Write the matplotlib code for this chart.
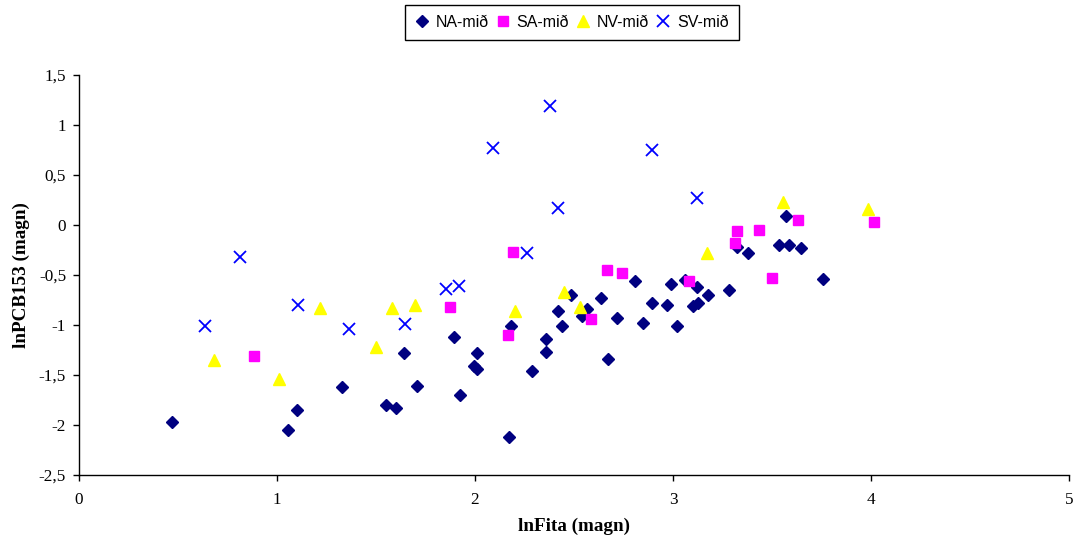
import matplotlib
matplotlib.use("Agg")
import matplotlib.pyplot as plt
from matplotlib.ticker import FuncFormatter

# ---- data ----
na_x = [0.470, 1.056, 1.101, 1.328, 1.551, 1.601, 1.641, 1.707, 1.894, 1.924,
        1.995, 2.010, 2.010, 2.172, 2.182, 2.288, 2.359, 2.359, 2.419, 2.439,
        2.485, 2.540, 2.566, 2.636, 2.672, 2.717, 2.808, 2.848, 2.894, 2.970,
        2.990, 3.020, 3.061, 3.101, 3.121, 3.126, 3.177, 3.283, 3.323, 3.379,
        3.535, 3.571, 3.586, 3.646, 3.758]
na_y = [-1.97, -2.05, -1.85, -1.62, -1.80, -1.83, -1.28, -1.61, -1.12, -1.70,
        -1.41, -1.44, -1.28, -2.12, -1.01, -1.46, -1.14, -1.27, -0.86, -1.01,
        -0.70, -0.91, -0.84, -0.73, -1.34, -0.93, -0.56, -0.98, -0.78, -0.80,
        -0.59, -1.01, -0.55, -0.81, -0.62, -0.78, -0.70, -0.65, -0.22, -0.28,
        -0.20, 0.09, -0.20, -0.23, -0.54]

sa_x = [0.884, 1.874, 2.167, 2.192, 2.586, 2.667, 2.742, 3.081, 3.313, 3.323,
        3.434, 3.500, 3.631, 4.015]
sa_y = [-1.31, -0.82, -1.10, -0.27, -0.94, -0.45, -0.48, -0.56, -0.18, -0.06,
        -0.05, -0.53, 0.05, 0.03]

nv_x = [0.682, 1.010, 1.217, 1.500, 1.581, 1.697, 2.202, 2.449, 2.530, 3.172,
        3.556, 3.985]
nv_y = [-1.35, -1.54, -0.83, -1.22, -0.83, -0.80, -0.86, -0.67, -0.82, -0.28,
        0.23, 0.16]

sv_x = [0.636, 0.813, 1.106, 1.364, 1.646, 1.854, 1.919, 2.091, 2.263, 2.379,
        2.419, 2.894, 3.121]
sv_y = [-1.01, -0.32, -0.80, -1.04, -0.99, -0.64, -0.61, 0.77, -0.28, 1.19,
        0.17, 0.75, 0.27]

series_labels = ["NA-mið", "SA-mið", "NV-mið", "SV-mið"]
x_ticks = [0, 1, 2, 3, 4, 5]
y_ticks = [-2.5, -2, -1.5, -1, -0.5, 0, 0.5, 1, 1.5]
x_label = "lnFita (magn)"
y_label = "lnPCB153 (magn)"

# ---- figure ----
W, H = 1074, 544
fig = plt.figure(figsize=(W / 100, H / 100), dpi=100)
ax = fig.add_axes([79 / W, (H - 475) / H, (1069 - 79) / W, (475 - 75) / H])

serif = ["Liberation Serif", "DejaVu Serif"]
sans = ["Liberation Sans", "DejaVu Sans"]

h1, = ax.plot(na_x, na_y, linestyle="none", marker="D", ms=6.2,
              color="#000080", mec="#000080", label=series_labels[0])
h2, = ax.plot(sa_x, sa_y, linestyle="none", marker="s", ms=7,
              color="#FF00FF", mec="#FF00FF", label=series_labels[1])
h3, = ax.plot(nv_x, nv_y, linestyle="none", marker="^", ms=8.5,
              color="#FFFF00", mec="#FFFF00", label=series_labels[2])
h4, = ax.plot(sv_x, sv_y, linestyle="none", marker="x", ms=8.5, mew=1.3,
              color="#0000FF", label=series_labels[3])

ax.set_xlim(0, 5)
ax.set_ylim(-2.5, 1.5)
ax.set_xticks(x_ticks)
ax.set_yticks(y_ticks)

def fmt(v, pos):
    return ("%g" % v).replace(".", ",")

ax.xaxis.set_major_formatter(FuncFormatter(fmt))
ax.yaxis.set_major_formatter(FuncFormatter(fmt))

for side in ("top", "right"):
    ax.spines[side].set_visible(False)
for side in ("left", "bottom"):
    ax.spines[side].set_color("#000000")
    ax.spines[side].set_linewidth(1.0)

ax.tick_params(axis="both", direction="out", length=4.3, width=1, color="black",
               labelsize=12.3)
ax.tick_params(axis="x", pad=8)
ax.tick_params(axis="y", pad=5)
for lab in ax.get_xticklabels() + ax.get_yticklabels():
    lab.set_fontfamily(serif)

ax.set_xlabel(x_label, fontsize=13.8, fontweight="bold", family=serif, labelpad=7)
ax.set_ylabel(y_label, fontsize=13.8, fontweight="bold", family=serif, labelpad=6)

leg = fig.legend(handles=[h1, h2, h3, h4], loc="center",
                 bbox_to_anchor=(572 / W, 1 - 22.5 / H), ncol=4,
                 prop={"family": sans, "size": 11.5}, frameon=True,
                 fancybox=False, edgecolor="black", framealpha=1,
                 handlelength=0.8, handletextpad=0.45, columnspacing=0.5,
                 borderpad=0.65, markerscale=1.0)
leg.get_frame().set_linewidth(1.0)

fig.savefig("out.png", dpi=100)
